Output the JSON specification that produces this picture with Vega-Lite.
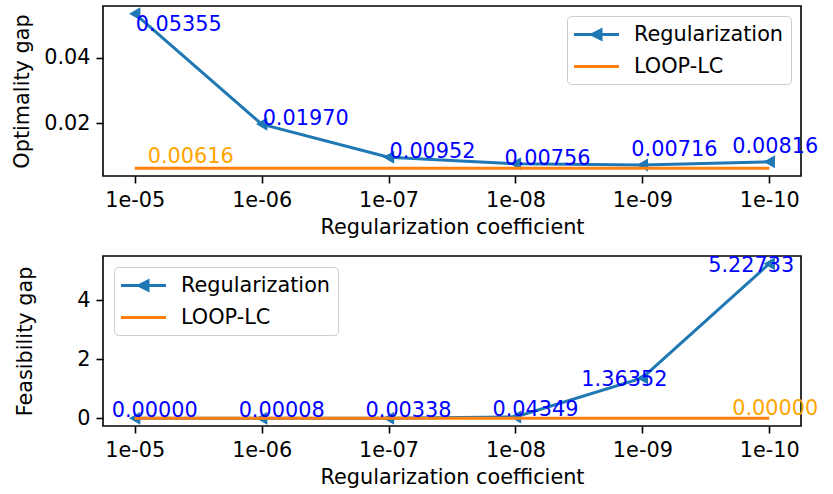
{
  "$schema": "https://vega.github.io/schema/vega-lite/v6.json",
  "padding": {"left": 10, "top": 5, "right": 5, "bottom": 5},
  "background": "white",
  "datasets": {
    "opt": [
      {"coef": "1e-05", "series": "Regularization", "value": 0.05355},
      {"coef": "1e-06", "series": "Regularization", "value": 0.01970},
      {"coef": "1e-07", "series": "Regularization", "value": 0.00952},
      {"coef": "1e-08", "series": "Regularization", "value": 0.00756},
      {"coef": "1e-09", "series": "Regularization", "value": 0.00716},
      {"coef": "1e-10", "series": "Regularization", "value": 0.00816},
      {"coef": "1e-05", "series": "LOOP-LC", "value": 0.00616},
      {"coef": "1e-10", "series": "LOOP-LC", "value": 0.00616}
    ],
    "feas": [
      {"coef": "1e-05", "series": "Regularization", "value": 0.00000},
      {"coef": "1e-06", "series": "Regularization", "value": 0.00008},
      {"coef": "1e-07", "series": "Regularization", "value": 0.00338},
      {"coef": "1e-08", "series": "Regularization", "value": 0.04349},
      {"coef": "1e-09", "series": "Regularization", "value": 1.36352},
      {"coef": "1e-10", "series": "Regularization", "value": 5.22733},
      {"coef": "1e-05", "series": "LOOP-LC", "value": 0.00000},
      {"coef": "1e-10", "series": "LOOP-LC", "value": 0.00000}
    ]
  },
  "spacing": 14,
  "resolve": {
    "scale": {"x": "independent", "y": "independent", "color": "independent"},
    "legend": {"color": "independent"}
  },
  "vconcat": [
    {
      "width": 698,
      "height": 170,
      "data": {"name": "opt"},
      "encoding": {
        "x": {
          "field": "coef", "type": "ordinal",
          "sort": ["1e-05", "1e-06", "1e-07", "1e-08", "1e-09", "1e-10"],
          "scale": {"type": "point", "padding": 0.25},
          "axis": {"title": "Regularization coefficient", "labelAngle": 0}
        },
        "y": {
          "field": "value", "type": "quantitative",
          "scale": {"domain": [0.00379, 0.05592], "nice": false, "zero": false},
          "axis": {"title": "Optimality gap", "values": [0.02, 0.04], "format": ".2f", "titleX": -71}
        }
      },
      "layer": [
        {
          "transform": [{"filter": "datum.series === 'Regularization'"}],
          "mark": {"type": "line", "strokeWidth": 3},
          "encoding": {
            "color": {
              "field": "series", "type": "nominal",
              "scale": {"domain": ["Regularization", "LOOP-LC"], "range": ["#1f77b4", "#ff7f0e"]},
              "legend": {
                "title": null, "orient": "top-right", "offset": 10,
                "padding": 7, "rowPadding": 10, "cornerRadius": 4,
                "strokeColor": "#cccccc", "fillColor": "rgba(255,255,255,0.8)",
                "labelFontSize": 20.8, "labelFont": "DejaVu Sans", "labelColor": "black",
                "labelOffset": 26, "symbolOffset": 11,
                "symbolSize": 400, "symbolStrokeWidth": 3, "symbolType": "M-2.25,0H2.25",
                "encode": {
                  "symbols": {
                    "update": {
                      "shape": {"signal": "datum.value === 'Regularization' ? 'M-2.25,0H2.25M-0.45,0L0.45,-0.45L0.45,0.45Z' : 'M-2.25,0H2.25'"},
                      "fill": {"signal": "datum.value === 'Regularization' ? '#1f77b4' : 'transparent'"},
                      "stroke": {"signal": "datum.value === 'Regularization' ? '#1f77b4' : '#ff7f0e'"},
                      "strokeWidth": {"value": 3}
                    }
                  }
                }
              }
            }
          }
        },
        {
          "transform": [{"filter": "datum.series === 'Regularization'"}],
          "mark": {"type": "point", "shape": "triangle-left", "filled": true, "size": 170, "color": "#1f77b4", "opacity": 1}
        },
        {
          "transform": [{"filter": "datum.series === 'LOOP-LC'"}],
          "mark": {"type": "line", "strokeWidth": 3},
          "encoding": {
            "color": {
              "field": "series", "type": "nominal",
              "scale": {"domain": ["Regularization", "LOOP-LC"], "range": ["#1f77b4", "#ff7f0e"]}
            }
          }
        },
        {
          "transform": [{"filter": "datum.series === 'Regularization' && datum.coef === '1e-05'"}],
          "mark": {"type": "text", "align": "left", "baseline": "alphabetic", "dx": 1, "dy": 17, "fontSize": 20.8, "font": "DejaVu Sans", "color": "#0000ff"},
          "encoding": {"text": {"field": "value", "type": "quantitative", "format": ".5f"}}
        },
        {
          "transform": [{"filter": "datum.series === 'Regularization' && (datum.coef === '1e-06' || datum.coef === '1e-07')"}],
          "mark": {"type": "text", "align": "left", "baseline": "alphabetic", "dx": 1, "dy": 1, "fontSize": 20.8, "font": "DejaVu Sans", "color": "#0000ff"},
          "encoding": {"text": {"field": "value", "type": "quantitative", "format": ".5f"}}
        },
        {
          "transform": [{"filter": "datum.series === 'Regularization' && datum.coef === '1e-08'"}],
          "mark": {"type": "text", "align": "left", "baseline": "alphabetic", "dx": -11, "dy": 1, "fontSize": 20.8, "font": "DejaVu Sans", "color": "#0000ff"},
          "encoding": {"text": {"field": "value", "type": "quantitative", "format": ".5f"}}
        },
        {
          "transform": [{"filter": "datum.series === 'Regularization' && datum.coef === '1e-09'"}],
          "mark": {"type": "text", "align": "left", "baseline": "alphabetic", "dx": -11, "dy": -9, "fontSize": 20.8, "font": "DejaVu Sans", "color": "#0000ff"},
          "encoding": {"text": {"field": "value", "type": "quantitative", "format": ".5f"}}
        },
        {
          "transform": [{"filter": "datum.series === 'Regularization' && datum.coef === '1e-10'"}],
          "mark": {"type": "text", "align": "left", "baseline": "alphabetic", "dx": -37, "dy": -9, "fontSize": 20.8, "font": "DejaVu Sans", "color": "#0000ff"},
          "encoding": {"text": {"field": "value", "type": "quantitative", "format": ".5f"}}
        },
        {
          "transform": [{"filter": "datum.series === 'LOOP-LC' && datum.coef === '1e-05'"}],
          "mark": {"type": "text", "align": "left", "baseline": "alphabetic", "dx": 13, "dy": -5, "fontSize": 20.8, "font": "DejaVu Sans", "color": "#ffa500"},
          "encoding": {"text": {"field": "value", "type": "quantitative", "format": ".5f"}}
        }
      ]
    },
    {
      "width": 698,
      "height": 170,
      "data": {"name": "feas"},
      "encoding": {
        "x": {
          "field": "coef", "type": "ordinal",
          "sort": ["1e-05", "1e-06", "1e-07", "1e-08", "1e-09", "1e-10"],
          "scale": {"type": "point", "padding": 0.25},
          "axis": {"title": "Regularization coefficient", "labelAngle": 0}
        },
        "y": {
          "field": "value", "type": "quantitative",
          "scale": {"domain": [-0.261, 5.489], "nice": false, "zero": false},
          "axis": {"title": "Feasibility gap", "values": [0, 2, 4], "format": "d", "titleX": -68}
        }
      },
      "layer": [
        {
          "transform": [{"filter": "datum.series === 'Regularization'"}],
          "mark": {"type": "line", "strokeWidth": 3},
          "encoding": {
            "color": {
              "field": "series", "type": "nominal",
              "scale": {"domain": ["Regularization", "LOOP-LC"], "range": ["#1f77b4", "#ff7f0e"]},
              "legend": {
                "title": null, "orient": "top-left", "offset": 11,
                "padding": 7, "rowPadding": 10, "cornerRadius": 4,
                "strokeColor": "#cccccc", "fillColor": "rgba(255,255,255,0.8)",
                "labelFontSize": 20.8, "labelFont": "DejaVu Sans", "labelColor": "black",
                "labelOffset": 26, "symbolOffset": 11,
                "symbolSize": 400, "symbolStrokeWidth": 3, "symbolType": "M-2.25,0H2.25",
                "encode": {
                  "symbols": {
                    "update": {
                      "shape": {"signal": "datum.value === 'Regularization' ? 'M-2.25,0H2.25M-0.45,0L0.45,-0.45L0.45,0.45Z' : 'M-2.25,0H2.25'"},
                      "fill": {"signal": "datum.value === 'Regularization' ? '#1f77b4' : 'transparent'"},
                      "stroke": {"signal": "datum.value === 'Regularization' ? '#1f77b4' : '#ff7f0e'"},
                      "strokeWidth": {"value": 3}
                    }
                  }
                }
              }
            }
          }
        },
        {
          "transform": [{"filter": "datum.series === 'Regularization'"}],
          "mark": {"type": "point", "shape": "triangle-left", "filled": true, "size": 170, "color": "#1f77b4", "opacity": 1}
        },
        {
          "transform": [{"filter": "datum.series === 'LOOP-LC'"}],
          "mark": {"type": "line", "strokeWidth": 3},
          "encoding": {
            "color": {
              "field": "series", "type": "nominal",
              "scale": {"domain": ["Regularization", "LOOP-LC"], "range": ["#1f77b4", "#ff7f0e"]}
            }
          }
        },
        {
          "transform": [{"filter": "datum.series === 'Regularization' && (datum.coef === '1e-05' || datum.coef === '1e-06' || datum.coef === '1e-07' || datum.coef === '1e-08')"}],
          "mark": {"type": "text", "align": "left", "baseline": "alphabetic", "dx": -23, "dy": -1, "fontSize": 20.8, "font": "DejaVu Sans", "color": "#0000ff"},
          "encoding": {"text": {"field": "value", "type": "quantitative", "format": ".5f"}}
        },
        {
          "transform": [{"filter": "datum.series === 'Regularization' && (datum.coef === '1e-09' || datum.coef === '1e-10')"}],
          "mark": {"type": "text", "align": "left", "baseline": "alphabetic", "dx": -61, "dy": 8, "fontSize": 20.8, "font": "DejaVu Sans", "color": "#0000ff"},
          "encoding": {"text": {"field": "value", "type": "quantitative", "format": ".5f"}}
        },
        {
          "transform": [{"filter": "datum.series === 'LOOP-LC' && datum.coef === '1e-10'"}],
          "mark": {"type": "text", "align": "left", "baseline": "alphabetic", "dx": -37, "dy": -3, "fontSize": 20.8, "font": "DejaVu Sans", "color": "#ffa500"},
          "encoding": {"text": {"field": "value", "type": "quantitative", "format": ".5f"}}
        }
      ]
    }
  ],
  "config": {
    "font": "DejaVu Sans",
    "view": {"stroke": "black", "strokeWidth": 1.6},
    "axis": {
      "grid": false, "domain": false,
      "tickColor": "black", "tickSize": 7, "tickWidth": 1.6,
      "labelFontSize": 20.8, "labelColor": "black", "labelFont": "DejaVu Sans",
      "titleFontSize": 20.8, "titleFont": "DejaVu Sans", "titleFontWeight": "normal", "titleColor": "black",
      "labelPadding": 7
    },
    "axisX": {"titlePadding": 8},
    "axisY": {"labelPadding": 6}
  }
}
